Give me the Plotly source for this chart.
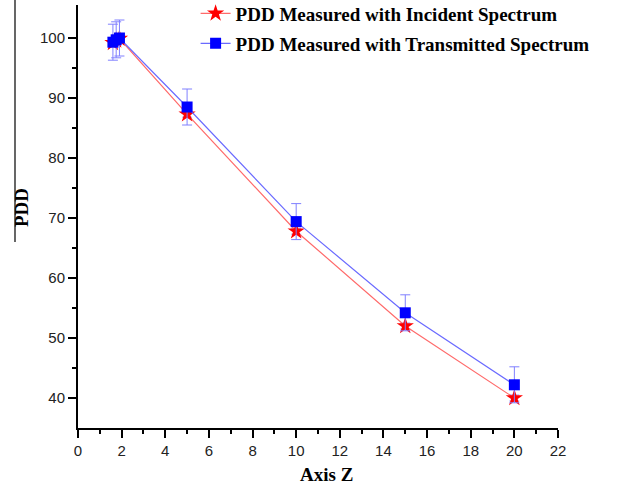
import plotly.graph_objects as go

# Data
depth = [1.6, 1.75, 1.9, 5, 10, 15, 20]
pdd_incident = [99.2, 99.6, 99.9, 87.3, 67.8, 52.0, 40.0]
pdd_incident_err = [0.5, 0.5, 0.5, 0.5, 0.5, 0.5, 0.5]
pdd_transmitted = [99.3, 99.7, 100.0, 88.5, 69.4, 54.2, 42.2]
pdd_transmitted_err = [3.0, 3.0, 3.0, 3.0, 3.0, 3.0, 3.0]

x_ticks = list(range(0, 23, 2))
y_ticks = list(range(40, 101, 10))

fig = go.Figure()

fig.add_trace(go.Scatter(
    x=depth, y=pdd_incident, mode="lines+markers",
    name="<b>PDD Measured with Incident Spectrum</b>",
    line=dict(color="#ff6a6a", width=1.2),
    marker=dict(symbol="star", size=13, color="#ff0000", line=dict(width=0)),
    error_y=dict(type="data", array=pdd_incident_err, color="#9a9aff", thickness=1, width=5),
    legend="legend", showlegend=True,
))
fig.add_trace(go.Scatter(
    x=depth, y=pdd_transmitted, mode="lines+markers",
    name="<b>PDD Measured with Transmitted Spectrum</b>",
    line=dict(color="#6a6aff", width=1.2),
    marker=dict(symbol="square", size=11, color="#0000ff", line=dict(width=0)),
    error_y=dict(type="data", array=pdd_transmitted_err, color="#8080ff", thickness=1, width=5),
    legend="legend2", showlegend=True,
))

legend_font = dict(family="Liberation Serif", size=19, color="black")
fig.update_layout(
    width=629, height=488, showlegend=True,
    margin=dict(l=78, r=71, t=5, b=60, autoexpand=False),
    plot_bgcolor="white", paper_bgcolor="white",
    legend=dict(x=0.245, y=1.025, xanchor="left", yanchor="top", font=legend_font,
                bgcolor="rgba(0,0,0,0)", itemwidth=30, visible=True),
    legend2=dict(x=0.245, y=0.954, xanchor="left", yanchor="top", font=legend_font,
                 bgcolor="rgba(0,0,0,0)", itemwidth=30, visible=True),
    xaxis=dict(
        range=[0, 22], tickvals=x_ticks, ticktext=[str(v) for v in x_ticks],
        showgrid=False, zeroline=False, showline=True, linecolor="black", linewidth=2,
        ticks="outside", ticklen=8, tickwidth=2, tickcolor="black", automargin=False,
        minor=dict(dtick=1, ticks="outside", ticklen=4, tickwidth=2, tickcolor="black"),
        tickfont=dict(family="Liberation Sans", size=15, color="#222"),
    ),
    yaxis=dict(
        range=[35, 105.5], tickvals=y_ticks, ticktext=[str(v) for v in y_ticks],
        showgrid=False, zeroline=False, showline=True, linecolor="black", linewidth=2,
        ticks="outside", ticklen=8, tickwidth=2, tickcolor="black", automargin=False,
        minor=dict(tickvals=[45, 55, 65, 75, 85, 95], ticks="outside", ticklen=4, tickwidth=2, tickcolor="black"),
        tickfont=dict(family="Liberation Sans", size=15, color="#222"),
    ),
    annotations=[
        dict(text="<b>Axis Z</b>", xref="paper", yref="paper", x=(326 - 78) / 480, y=-46 / 423,
             xanchor="center", yanchor="middle", showarrow=False,
             font=dict(family="Liberation Serif", size=19, color="black")),
        dict(text="<b>PDD</b>", xref="paper", yref="paper", x=-57 / 480, y=(428 - 208) / 423,
             xanchor="center", yanchor="middle", showarrow=False, textangle=-90,
             font=dict(family="Liberation Serif", size=19, color="black")),
    ],
    shapes=[dict(type="line", xref="paper", yref="paper",
                 x0=-63 / 480, x1=-63 / 480, y0=1.02, y1=(428 - 242) / 423,
                 line=dict(color="black", width=1.2))],
)

fig.write_html("out.html", config={"displayModeBar": False},
               post_script="document.body.style.margin='0';")
